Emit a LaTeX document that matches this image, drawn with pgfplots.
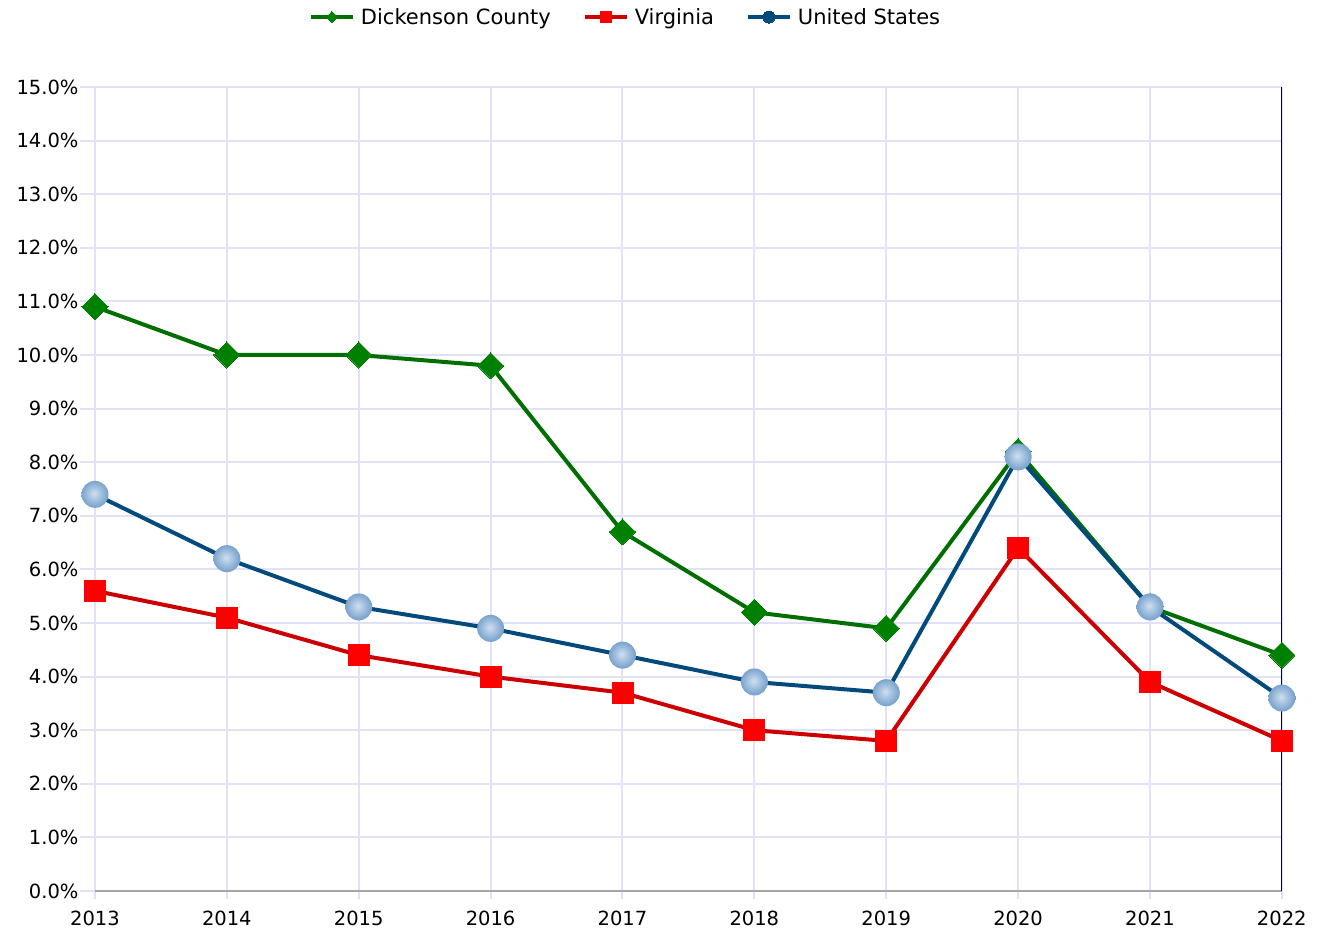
\documentclass[border=0pt]{standalone}
\usepackage{fontspec}
\setmainfont{DejaVu Sans}
\usepackage{pgfplots}
\pgfplotsset{compat=1.18}
\definecolor{gridc}{HTML}{E2E2F6}
\definecolor{dgreenL}{HTML}{006E00}
\definecolor{dgreenM}{HTML}{008000}
\definecolor{redL}{HTML}{CC0000}
\definecolor{redM}{HTML}{FF0000}
\definecolor{blueL}{HTML}{034A7C}
\definecolor{blueE}{HTML}{3A74AE}
\definecolor{blueMid}{HTML}{6D9AC8}
\definecolor{blueC}{HTML}{CFE0F0}
\pgfdeclareradialshading{myballshade}{\pgfpoint{-2bp}{2bp}}{color(0bp)=(blueC); color(8bp)=(blueC!70!blueMid); color(28bp)=(blueMid); color(42bp)=(blueE); color(50bp)=(blueE)}
\pgfdeclareplotmark{myball}{\pgfpathcircle{\pgfpointorigin}{\pgfplotmarksize}\pgfshadepath{myballshade}{0}\pgfusepath{discard}}
\begin{document}
\begin{tikzpicture}[x=1pt,y=1pt]
\useasboundingbox (-95,-39) rectangle (1227,891);
\begin{axis}[
  at={(0,0)}, anchor=south west,
  scale only axis, width=1187pt, height=804pt,
  xmin=2013, xmax=2022, ymin=0, ymax=15,
  xtick={2013,...,2022}, ytick={0,...,15},
  /pgf/number format/assume math mode=true,
  xticklabel={\pgfmathprintnumber[1000 sep={}]{\tick}},
  yticklabel={\pgfmathprintnumber[fixed,fixed zerofill,precision=1]{\tick}\%},
  grid=major, major grid style={gridc, line width=2pt},
  axis line style={draw=none},
  major tick length=8pt,
  tick align=outside, xtick pos=bottom, ytick pos=left,
  tick style={gridc, line width=2pt},
  ticklabel style={font=\fontsize{19.5}{22}\selectfont, text=black},
  yticklabel style={xshift=-5pt},
  xticklabel style={yshift=-8pt},
  legend columns=3,
  legend style={at={(0.447,1.087)}, anchor=center, draw=none, fill=none,
    font=\fontsize{21}{24}\selectfont,
    /tikz/every even column/.append style={column sep=30pt}},
  legend image code/.code={\draw[mark repeat=2,mark phase=2,#1] plot coordinates {(0pt,0pt)(21pt,0pt)(42pt,0pt)};},
  clip=false,
]
\pgfplotsinvokeforeach{0,...,15}{\draw[gridc, line width=2pt] (axis cs:2013,#1) -- ++(-15pt,0pt);}
\draw[gray!70, line width=1.5pt] (rel axis cs:0,0) -- (rel axis cs:1,0);
\draw[black!70!blue, line width=1pt] (rel axis cs:1,0) -- (rel axis cs:1,1);
\addplot[dgreenL, line width=4pt, mark=square*, mark size=9.2pt,
  mark options={rotate=45, fill=dgreenM, draw=dgreenM, line width=0pt},
  legend image post style={mark size=4pt}]
  coordinates {(2013,10.9)(2014,10.0)(2015,10.0)(2016,9.8)(2017,6.7)(2018,5.2)(2019,4.9)(2020,8.2)(2021,5.3)(2022,4.4)};
\addlegendentry{\hspace{4pt}Dickenson County}
\addplot[redL, line width=4pt, mark=square*, mark size=10.5pt,
  mark options={fill=redM, draw=redM, line width=0pt},
  legend image post style={mark size=5.5pt}]
  coordinates {(2013,5.6)(2014,5.1)(2015,4.4)(2016,4.0)(2017,3.7)(2018,3.0)(2019,2.8)(2020,6.4)(2021,3.9)(2022,2.8)};
\addlegendentry{\hspace{4pt}Virginia}
\addplot[blueL, line width=4pt, mark=myball, mark size=13.5pt,
  legend image post style={mark=*, mark size=6pt, mark options={fill=blueL, draw=blueL, line width=0pt}}]
  coordinates {(2013,7.4)(2014,6.2)(2015,5.3)(2016,4.9)(2017,4.4)(2018,3.9)(2019,3.7)(2020,8.1)(2021,5.3)(2022,3.6)};
\addlegendentry{\hspace{4pt}United States}
\end{axis}
\end{tikzpicture}
\end{document}
